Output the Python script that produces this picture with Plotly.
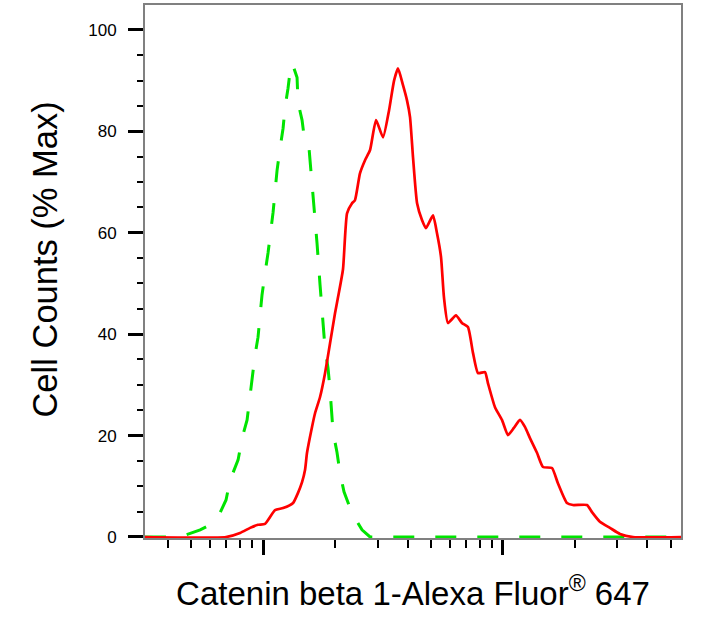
import plotly.graph_objects as go

# isotype control (green dashed) and Catenin beta 1 stained cells (red)
ctrl_x = [322, 430, 464, 547, 601, 649, 701, 729, 787, 818, 858, 900, 926, 953,
          990, 1019, 1049, 1101, 1144, 1177, 1212, 1235, 1271, 1309, 1346, 1386,
          1399, 1454, 1496, 1555, 1570, 1600, 1631, 1679, 1728, 1778, 1813, 1866,
          1902, 1958, 2033, 2093, 2175, 2349, 2585, 2793, 55208]
ctrl_y = [0, 0, 0.2, 1.4, 2.4, 3.9, 7.3, 11.2, 15.2, 19.5, 23.1, 31.5, 35.9, 39.4,
          47.7, 52.0, 56.0, 64.0, 72.3, 76.6, 80.6, 84.7, 88.5, 93.4, 92.4, 90.6,
          85.7, 82.2, 77.6, 76.6, 74.3, 70.0, 65.8, 57.9, 49.7, 41.4, 37.2, 33.3,
          29.0, 20.7, 16.7, 12.6, 8.9, 4.7, 1.4, 0, 0]

cat_x = [322, 701, 802, 883, 953, 1019, 1122, 1212, 1334, 1399, 1454, 1496, 1525,
         1600, 1647, 1728, 1813, 1902, 1995, 2054, 2154, 2239, 2349, 2416, 2535,
         2661, 2793, 2957, 3162, 3350, 3516, 3652, 3831, 3981, 4098, 4217, 4385,
         4597, 4776, 5108, 5309, 5518, 5675, 5900, 6368, 6745, 7145, 7499, 7870,
         8414, 8660, 9261, 9904, 10491, 11101, 11770, 12347, 12957, 13860, 14678,
         16002, 16943, 18478, 19573, 22387, 23496, 25351, 27915, 30734, 34834, 55208]
cat_y = [0, 0, 0.8, 1.8, 2.4, 2.6, 5.3, 5.7, 6.7, 8.7, 10.8, 13.2, 16.6,
         21.7, 24.4, 27.6, 32.3, 38.2, 44.1, 47.3, 52.8, 63.8, 65.8, 66.4, 71.7,
         74.3, 76.3, 82.2, 78.8, 84.1, 90.0, 92.4, 89.1, 86.1, 82.8, 74.9, 65.8,
         62.5, 60.9, 63.4, 59.9, 55.2, 47.3, 42.2, 43.7, 42.2, 41.4, 36.3, 32.3,
         32.5, 30.3, 25.6, 23.1, 20.1, 21.5, 23.1, 21.7, 19.5, 16.6, 13.8,
         13.6, 10.6, 6.7, 6.3, 6.3, 4.9, 3.0, 1.8, 0.6, 0, 0]

y_ticks = [0, 20, 40, 60, 80, 100]
x_major = [1000, 10000]
x_minor = [k * d for d in (100, 1000, 10000) for k in range(2, 10)]

FONT = 'Liberation Sans, Arial, sans-serif'

fig = go.Figure()
fig.add_trace(go.Scatter(x=ctrl_x, y=ctrl_y, mode='lines',
                         line=dict(color='#00e400', width=3, dash='21px,21px'),
                         showlegend=False))
fig.add_trace(go.Scatter(x=cat_x, y=cat_y, mode='lines',
                         line=dict(color='#ff0000', width=2.7, shape='spline', smoothing=0.5),
                         showlegend=False))

fig.update_layout(
    width=706, height=624,
    margin=dict(l=145, r=25, t=5, b=86),
    plot_bgcolor='white', paper_bgcolor='white',
    font=dict(family=FONT, color='black'),
    xaxis=dict(type='log', range=[2.508, 4.742], automargin=False,
               showgrid=False, zeroline=False,
               showline=True, linecolor='#808080', linewidth=2, mirror=True,
               tickmode='array', tickvals=x_major, showticklabels=False,
               ticks='outside', ticklen=15, tickwidth=3, tickcolor='black',
               minor=dict(tickvals=x_minor, ticks='outside', ticklen=8,
                          tickwidth=2, tickcolor='black', showgrid=False),
               title=dict(text='Catenin beta 1-Alexa Fluor<sup>®</sup> 647',
                          font=dict(size=33), standoff=28)),
    yaxis=dict(range=[-0.2, 104.9], automargin=False,
               showgrid=False, zeroline=False,
               showline=True, linecolor='#808080', linewidth=2, mirror=True,
               tickmode='array', tickvals=y_ticks,
               tickfont=dict(size=17),
               ticks='outside', ticklen=15, tickwidth=3, tickcolor='black',
               ticklabelstandoff=8,
               minor=dict(dtick=5, ticks='outside', ticklen=6,
                          tickwidth=2, tickcolor='black', showgrid=False)),
)

# y title as an annotation so it can sit a little above the plot centre
fig.add_annotation(text='Cell Counts (% Max)', textangle=-90,
                   xref='paper', yref='paper', x=-0.187, y=0.522,
                   xanchor='center', yanchor='middle', showarrow=False,
                   font=dict(size=34.5))

# page body has a default 8px margin; drop it so the figure sits at 0,0
fig.write_html("out.html", config={'displayModeBar': False},
               post_script="document.body.style.margin='0';document.body.style.padding='0';")
